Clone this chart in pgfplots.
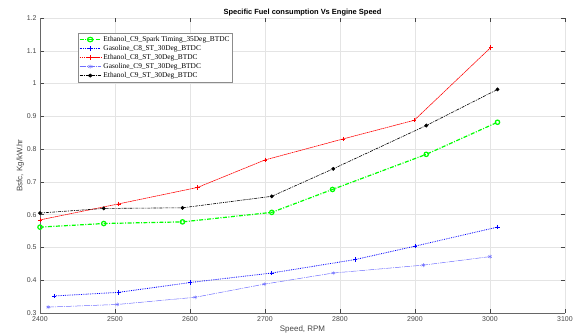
\documentclass[border=0pt]{standalone}
\usepackage{fontspec}
\setmainfont{Liberation Sans}
\newfontfamily\timesf{Liberation Serif}
\usepackage{pgfplots}
\pgfplotsset{compat=1.18}
\definecolor{lblue}{RGB}{110,110,255}
\definecolor{mgrid}{RGB}{228,228,228}
\definecolor{mtick}{RGB}{70,70,70}
\begin{document}
\begin{tikzpicture}
\begin{axis}[
  scale only axis,
  width=525bp, height=295bp,
  xmin=2400, xmax=3100, ymin=0.3, ymax=1.2,
  xtick={2400,2500,...,3100},
  ytick={0.3,0.4,...,1.2},
  /pgf/number format/assume math mode=true,
  /pgf/number format/1000 sep={},
  ticklabel style={font=\fontsize{7}{8}\selectfont, text=mtick},
  tick align=inside,
  major tick length=4bp,
  major tick style={draw=mtick, line width=0.5pt},
  grid=major,
  major grid style={draw=mgrid, line width=0.5pt},
  axis line style={draw=none},
  clip=false,
  title={\textbf{Specific Fuel consumption Vs Engine Speed}},
  title style={font=\fontsize{7.5}{9}\selectfont, yshift=-8bp},
  xlabel={Speed, RPM},
  ylabel={Bsfc, Kg/kW.hr},
  label style={font=\fontsize{8}{9}\selectfont, text=mtick},
  xlabel style={yshift=3bp},
  ylabel style={yshift=-4bp},
  legend style={at={(0.072,0.949)}, anchor=north west, draw=black!45, fill=white,
    font=\timesf\fontsize{7.4}{8.5}\selectfont, inner sep=1pt, row sep=-1.6pt,
    cells={anchor=west}},
  legend image post style={xscale=1.25},
]
\addplot[color=green, line width=1.2pt, dash pattern=on 4pt off 1.5pt on 1pt off 1.5pt, mark=o, mark size=2.2pt, mark options={solid}] coordinates {
(2400,0.562) (2485,0.573) (2590,0.578) (2709,0.607) (2790,0.677) (2915,0.784) (3010,0.882)};
\addlegendentry{Ethanol\_C9\_Spark Timing\_35Deg\_BTDC}
\addplot[color=blue, line width=0.8pt, densely dotted, mark=+, mark size=2.2pt, mark options={solid}] coordinates {
(2419,0.352) (2505,0.363) (2600,0.393) (2709,0.422) (2820,0.463) (2900,0.504) (3010,0.562)};
\addlegendentry{Gasoline\_C8\_ST\_30Deg\_BTDC}
\addplot[color=red, line width=0.6pt, dash pattern=on 1.6pt off 0.5pt, mark=+, mark size=2.2pt, mark options={solid}] coordinates {
(2400,0.584) (2505,0.633) (2610,0.683) (2700,0.767) (2804,0.831) (2899,0.888) (3001,1.11)};
\addlegendentry{Ethanol\_C8\_ST\_30Deg\_BTDC}
\addplot[color=lblue, line width=0.5pt, dash pattern=on 6pt off 1pt on 1pt off 1pt, mark=asterisk, mark size=2pt, mark options={solid}] coordinates {
(2411,0.318) (2503,0.326) (2607,0.348) (2699,0.388) (2791,0.422) (2911,0.446) (3000,0.472)};
\addlegendentry{Gasoline\_C9\_ST\_30Deg\_BTDC}
\addplot[color=black, line width=0.6pt, dash pattern=on 3pt off 1pt on 1pt off 1pt, mark=*, mark size=1.6pt, mark options={solid}] coordinates {
(2400,0.605) (2485,0.619) (2590,0.621) (2709,0.656) (2791,0.740) (2915,0.872) (3010,0.982)};
\addlegendentry{Ethanol\_C9\_ST\_30Deg\_BTDC}
\draw[draw=black!60, line width=0.6pt] (rel axis cs:0,1) -- (rel axis cs:0,0) -- (rel axis cs:1,0);
\end{axis}
\pgfresetboundingbox
\path[use as bounding box] (current axis.south west) ++(-40bp,-21bp) rectangle ++(578bp,334bp);
\end{tikzpicture}
\end{document}
